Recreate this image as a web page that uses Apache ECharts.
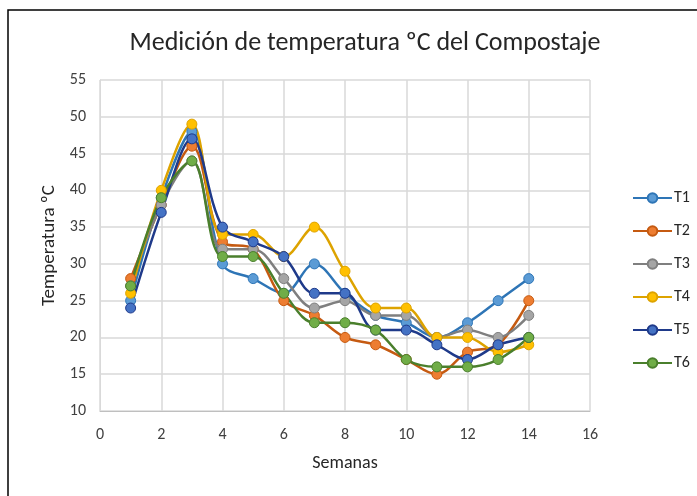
<!DOCTYPE html>
<html lang="es">
<head>
  <meta charset="UTF-8">
  <title>Medición de temperatura ºC del Compostaje</title>
  <style>
    html, body { margin: 0; padding: 0; background: #fff; }
    #chart { width: 697px; height: 496px; }
  </style>
</head>
<body>
  <div id="chart"></div>
  <script src="https://cdn.jsdelivr.net/npm/echarts@6/dist/echarts.min.js"></script>
  <script>
    // semanas 1..14
    const semanas = [1, 2, 3, 4, 5, 6, 7, 8, 9, 10, 11, 12, 13, 14];
    const T1 = [25, 39, 48, 30, 28, 26, 30, 26, 23, 22, 20, 22, 25, 28];
    const T2 = [28, 38, 46, 33, 32, 25, 23, 20, 19, 17, 15, 18, 19, 25];
    const T3 = [27, 38, 44, 32, 32, 28, 24, 25, 23, 23, 20, 21, 20, 23];
    const T4 = [26, 40, 49, 34, 34, 31, 35, 29, 24, 24, 20, 20, 18, 19];
    const T5 = [24, 37, 47, 35, 33, 31, 26, 26, 21, 21, 19, 17, 19, 20];
    const T6 = [27, 39, 44, 31, 31, 26, 22, 22, 21, 17, 16, 16, 17, 20];
    const nombres = ['T1', 'T2', 'T3', 'T4', 'T5', 'T6'];
    const valores = [T1, T2, T3, T4, T5, T6];

    // color de línea / relleno del marcador
    const lineas = ['#2E75B6', '#C55A11', '#7F7F7F', '#DDA300', '#1F3A8A', '#4A7F2C'];
    const rellenos = ['#5B9BD5', '#ED7D31', '#A5A5A5', '#FFC000', '#4472C4', '#70AD47'];

    const font = 'Carlito, Lato, "Open Sans", sans-serif';
    const chart = echarts.init(document.getElementById('chart'));

    const series = nombres.map((n, i) => ({
      name: n,
      type: 'line',
      smooth: 0.35,
      data: semanas.map((s, j) => [s, valores[i][j]]),
      symbol: 'circle',
      symbolSize: 10,
      lineStyle: { color: lineas[i], width: 2.5 },
      itemStyle: { color: rellenos[i], borderColor: lineas[i], borderWidth: 1 }
    }));

    chart.setOption({
      animation: false,
      graphic: [{
        type: 'rect',
        shape: { x: 8, y: 10, width: 700, height: 500 },
        style: { fill: 'none', stroke: '#000', lineWidth: 1.5 }
      }],
      title: {
        text: 'Medición de temperatura ºC del Compostaje',
        left: 360, top: 25, textAlign: 'center',
        textStyle: { fontFamily: font, fontSize: 26, fontWeight: 'normal', color: '#262626' }
      },
      legend: {
        orient: 'vertical',
        left: 627, top: 185,
        itemWidth: 39, itemHeight: 12, itemGap: 17,
        data: nombres,
        textStyle: { fontFamily: font, fontSize: 16, color: '#262626', padding: [0, 0, 0, -3] }
      },
      grid: { left: 100, right: 107, top: 80, bottom: 85 },
      xAxis: {
        type: 'value', min: 0, max: 16, interval: 2,
        name: 'Semanas', nameLocation: 'middle', nameGap: 43,
        nameTextStyle: { fontFamily: font, fontSize: 18, color: '#262626' },
        axisLine: { lineStyle: { color: '#BFBFBF' } },
        axisTick: { show: false },
        axisLabel: { fontFamily: font, fontSize: 16, color: '#404040', margin: 16 },
        splitLine: { show: true, lineStyle: { color: '#D9D9D9', width: 1.5 } }
      },
      yAxis: {
        type: 'value', min: 10, max: 55, interval: 5,
        name: 'Temperatura ºC', nameLocation: 'middle', nameGap: 38, nameRotate: 90,
        nameTextStyle: { fontFamily: font, fontSize: 19, color: '#262626' },
        axisLine: { show: true, lineStyle: { color: '#D9D9D9' } },
        axisTick: { show: false },
        axisLabel: { fontFamily: font, fontSize: 16, color: '#404040', margin: 14 },
        splitLine: { lineStyle: { color: '#D9D9D9', width: 1.5 } }
      },
      series: series
    });
  </script>
</body>
</html>
